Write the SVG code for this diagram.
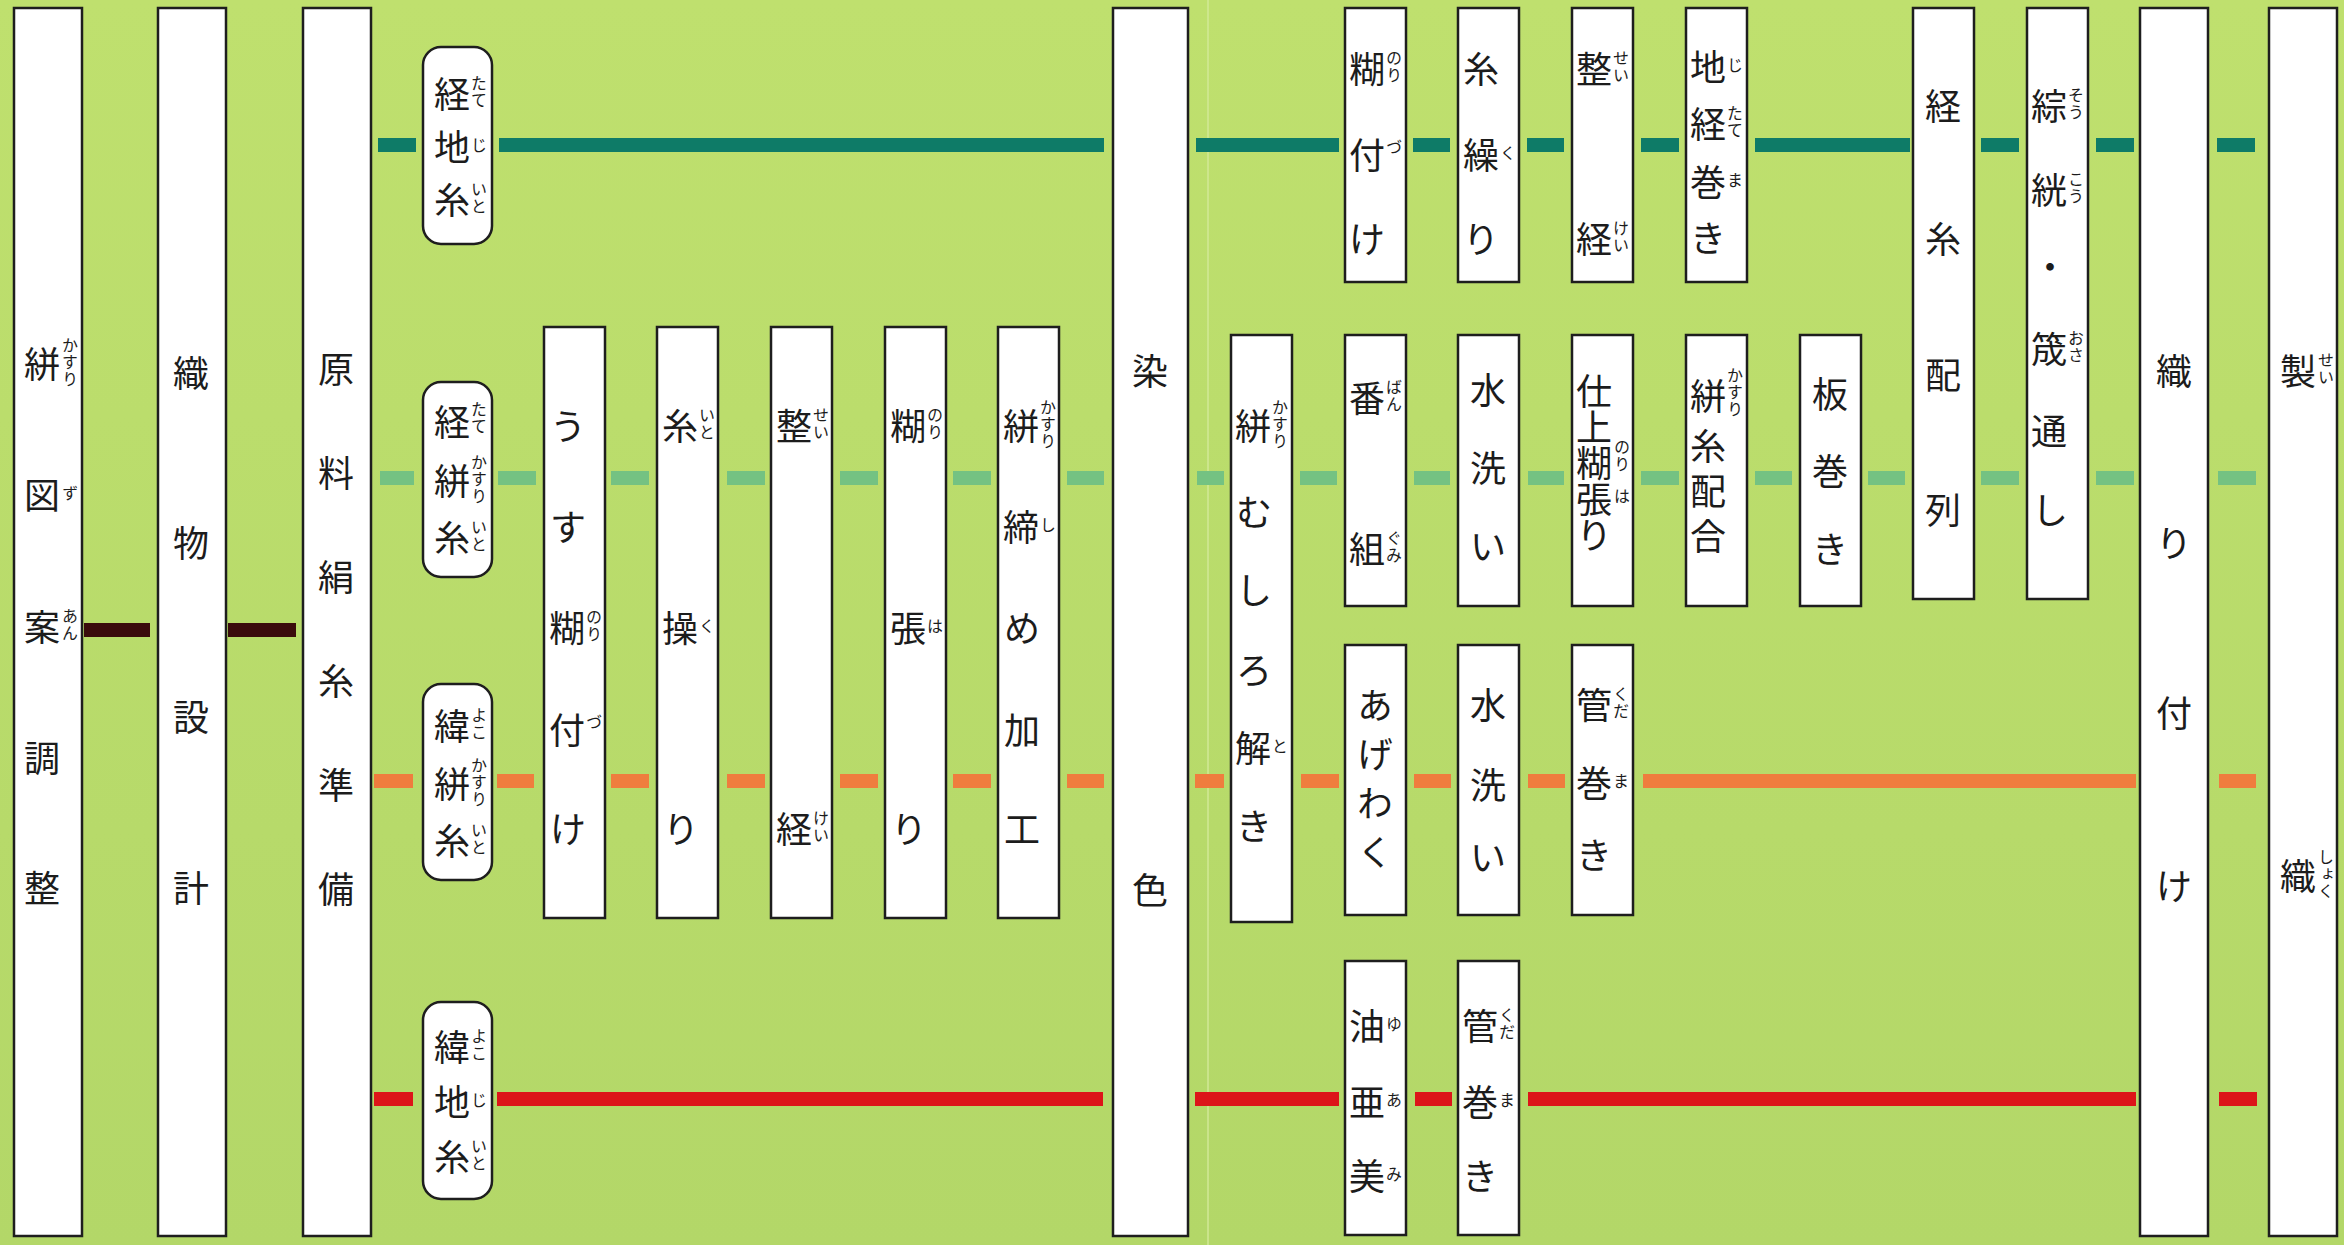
<svg xmlns="http://www.w3.org/2000/svg" width="2344" height="1245" viewBox="0 0 2344 1245">
<defs>
<linearGradient id="bgg" x1="0" y1="0" x2="0" y2="1">
<stop offset="0" stop-color="#bfe06e"/>
<stop offset="1" stop-color="#b3d768"/>
</linearGradient>
</defs>
<style>
.b{fill:#fff;stroke:#1e1e1e;stroke-width:2.5}
.t{font-family:"Noto Sans CJK JP","Noto Sans CJK SC",sans-serif;font-size:36px;fill:#1c1c1c;text-anchor:middle;dominant-baseline:central}
.tv{font-family:"Noto Sans CJK JP","Noto Sans CJK SC",sans-serif;font-size:36px;fill:#1c1c1c;text-anchor:middle;writing-mode:vertical-rl}
.r{font-family:"Noto Sans CJK JP","Noto Sans CJK SC",sans-serif;font-size:16px;fill:#1c1c1c;text-anchor:middle;writing-mode:vertical-rl;letter-spacing:1px}
.dg{fill:#0e7b67}
.lg{fill:#74c282}
.or{fill:#ef7d3e}
.rd{fill:#dc1519}
.br{fill:#3a0c0c}
</style>
<rect x="0" y="0" width="2344" height="1245" fill="url(#bgg)"/>
<line x1="1208" y1="0" x2="1208" y2="1245" stroke="#d4ea9a" stroke-width="2" opacity="0.7"/>

<g id="connectors">
<rect class="br" x="84" y="623" width="66" height="14"/>
<rect class="br" x="228" y="623" width="68" height="14"/>

<rect class="dg" x="378" y="138" width="38" height="14"/>
<rect class="dg" x="499" y="138" width="605" height="14"/>
<rect class="dg" x="1196" y="138" width="143" height="14"/>
<rect class="dg" x="1413" y="138" width="37" height="14"/>
<rect class="dg" x="1527" y="138" width="37" height="14"/>
<rect class="dg" x="1641" y="138" width="38" height="14"/>
<rect class="dg" x="1755" y="138" width="155" height="14"/>
<rect class="dg" x="1981" y="138" width="38" height="14"/>
<rect class="dg" x="2096" y="138" width="38" height="14"/>
<rect class="dg" x="2217" y="138" width="38" height="14"/>

<rect class="lg" x="380" y="471" width="34" height="14"/>
<rect class="lg" x="498" y="471" width="38" height="14"/>
<rect class="lg" x="611" y="471" width="38" height="14"/>
<rect class="lg" x="727" y="471" width="38" height="14"/>
<rect class="lg" x="840" y="471" width="38" height="14"/>
<rect class="lg" x="953" y="471" width="38" height="14"/>
<rect class="lg" x="1067" y="471" width="37" height="14"/>
<rect class="lg" x="1197" y="471" width="27" height="14"/>
<rect class="lg" x="1300" y="471" width="37" height="14"/>
<rect class="lg" x="1414" y="471" width="36" height="14"/>
<rect class="lg" x="1528" y="471" width="36" height="14"/>
<rect class="lg" x="1641" y="471" width="38" height="14"/>
<rect class="lg" x="1755" y="471" width="37" height="14"/>
<rect class="lg" x="1868" y="471" width="37" height="14"/>
<rect class="lg" x="1981" y="471" width="38" height="14"/>
<rect class="lg" x="2096" y="471" width="38" height="14"/>
<rect class="lg" x="2218" y="471" width="38" height="14"/>

<rect class="or" x="374" y="774" width="39" height="14"/>
<rect class="or" x="497" y="774" width="37" height="14"/>
<rect class="or" x="611" y="774" width="38" height="14"/>
<rect class="or" x="727" y="774" width="38" height="14"/>
<rect class="or" x="840" y="774" width="38" height="14"/>
<rect class="or" x="953" y="774" width="38" height="14"/>
<rect class="or" x="1067" y="774" width="37" height="14"/>
<rect class="or" x="1195" y="774" width="29" height="14"/>
<rect class="or" x="1301" y="774" width="38" height="14"/>
<rect class="or" x="1414" y="774" width="37" height="14"/>
<rect class="or" x="1528" y="774" width="37" height="14"/>
<rect class="or" x="1643" y="774" width="493" height="14"/>
<rect class="or" x="2219" y="774" width="37" height="14"/>

<rect class="rd" x="374" y="1092" width="39" height="14"/>
<rect class="rd" x="497" y="1092" width="606" height="14"/>
<rect class="rd" x="1195" y="1092" width="144" height="14"/>
<rect class="rd" x="1415" y="1092" width="37" height="14"/>
<rect class="rd" x="1528" y="1092" width="608" height="14"/>
<rect class="rd" x="2219" y="1092" width="38" height="14"/>
</g>

<g id="kasuri-zuan-chousei">
<rect class="b" x="14" y="8" width="68" height="1228"/>
<text class="t" x="42" y="362">絣</text><text class="r" x="70" y="362">かすり</text>
<text class="t" x="42" y="493">図</text><text class="r" x="70" y="493">ず</text>
<text class="t" x="42" y="625">案</text><text class="r" x="70" y="625">あん</text>
<text class="t" x="42" y="756">調</text>
<text class="t" x="42" y="886">整</text>
</g>

<g id="orimono-sekkei">
<rect class="b" x="158" y="8" width="68" height="1228"/>
<text class="t" x="191" y="371">織</text>
<text class="t" x="191" y="541">物</text>
<text class="t" x="191" y="715">設</text>
<text class="t" x="191" y="886">計</text>
</g>

<g id="genryou-kenshi-junbi">
<rect class="b" x="303" y="8" width="68" height="1228"/>
<text class="t" x="336" y="367">原</text>
<text class="t" x="336" y="471">料</text>
<text class="t" x="336" y="575">絹</text>
<text class="t" x="336" y="679">糸</text>
<text class="t" x="336" y="783">準</text>
<text class="t" x="336" y="887">備</text>
</g>

<g id="tate-jiito">
<rect class="b" x="423" y="47" width="69" height="197" rx="18"/>
<text class="t" x="452" y="92">経</text><text class="r" x="479" y="92">たて</text>
<text class="t" x="452" y="145">地</text><text class="r" x="479" y="145">じ</text>
<text class="t" x="452" y="198">糸</text><text class="r" x="479" y="198">いと</text>
</g>

<g id="tate-kasuriito">
<rect class="b" x="423" y="382" width="69" height="195" rx="18"/>
<text class="t" x="452" y="420">経</text><text class="r" x="479" y="418">たて</text>
<text class="t" x="452" y="479">絣</text><text class="r" x="479" y="479">かすり</text>
<text class="t" x="452" y="536">糸</text><text class="r" x="479" y="536">いと</text>
</g>

<g id="yoko-kasuriito">
<rect class="b" x="423" y="684" width="69" height="196" rx="18"/>
<text class="t" x="452" y="724">緯</text><text class="r" x="479" y="724">よこ</text>
<text class="t" x="452" y="782">絣</text><text class="r" x="479" y="782">かすり</text>
<text class="t" x="452" y="839">糸</text><text class="r" x="479" y="839">いと</text>
</g>

<g id="yoko-jiito">
<rect class="b" x="423" y="1002" width="69" height="197" rx="18"/>
<text class="t" x="452" y="1045">緯</text><text class="r" x="479" y="1045">よこ</text>
<text class="t" x="452" y="1100">地</text><text class="r" x="479" y="1100">じ</text>
<text class="t" x="452" y="1155">糸</text><text class="r" x="479" y="1155">いと</text>
</g>

<g id="usu-noritsuke">
<rect class="b" x="544" y="327" width="61" height="591"/>
<text class="t" x="568" y="424">う</text>
<text class="t" x="568" y="525">す</text>
<text class="t" x="567" y="626">糊</text><text class="r" x="594" y="626">のり</text>
<text class="t" x="567" y="728">付</text><text class="r" x="594" y="722">づ</text>
<text class="t" x="568" y="827">け</text>
</g>

<g id="itokuri-1">
<rect class="b" x="657" y="327" width="61" height="591"/>
<text class="t" x="680" y="424">糸</text><text class="r" x="707" y="424">いと</text>
<text class="t" x="680" y="626">操</text><text class="r" x="707" y="626">く</text>
<text class="t" x="681" y="827">り</text>
</g>

<g id="seikei-1">
<rect class="b" x="771" y="327" width="61" height="591"/>
<text class="t" x="794" y="424">整</text><text class="r" x="821" y="424">せい</text>
<text class="t" x="794" y="827">経</text><text class="r" x="821" y="827">けい</text>
</g>

<g id="norihari-1">
<rect class="b" x="885" y="327" width="61" height="591"/>
<text class="t" x="908" y="424">糊</text><text class="r" x="935" y="424">のり</text>
<text class="t" x="908" y="626">張</text><text class="r" x="935" y="626">は</text>
<text class="t" x="909" y="827">り</text>
</g>

<g id="kasuri-shime-kakou">
<rect class="b" x="998" y="327" width="61" height="591"/>
<text class="t" x="1021" y="424">絣</text><text class="r" x="1048" y="424">かすり</text>
<text class="t" x="1021" y="525">締</text><text class="r" x="1048" y="525">し</text>
<text class="t" x="1022" y="626">め</text>
<text class="t" x="1022" y="728">加</text>
<text class="t" x="1022" y="827">工</text>
</g>

<g id="senshoku">
<rect class="b" x="1113" y="8" width="75" height="1228"/>
<text class="t" x="1150" y="369">染</text>
<text class="t" x="1150" y="888">色</text>
</g>

<g id="kasuri-mushiro-toki">
<rect class="b" x="1231" y="335" width="61" height="587"/>
<text class="t" x="1253" y="424">絣</text><text class="r" x="1280" y="424">かすり</text>
<text class="t" x="1254" y="510">む</text>
<text class="t" x="1254" y="588">し</text>
<text class="t" x="1254" y="668">ろ</text>
<text class="t" x="1253" y="746">解</text><text class="r" x="1280" y="746">と</text>
<text class="t" x="1254" y="824">き</text>
</g>

<g id="noritsuke-2">
<rect class="b" x="1345" y="8" width="61" height="274"/>
<text class="t" x="1367" y="67">糊</text><text class="r" x="1394" y="67">のり</text>
<text class="t" x="1367" y="153">付</text><text class="r" x="1394" y="147">づ</text>
<text class="t" x="1367" y="237">け</text>
</g>

<g id="itokuri-2">
<rect class="b" x="1458" y="8" width="61" height="274"/>
<text class="t" x="1481" y="67">糸</text>
<text class="t" x="1481" y="153">繰</text><text class="r" x="1508" y="153">く</text>
<text class="t" x="1481" y="237">り</text>
</g>

<g id="seikei-2">
<rect class="b" x="1572" y="8" width="61" height="274"/>
<text class="t" x="1594" y="67">整</text><text class="r" x="1621" y="67">せい</text>
<text class="t" x="1594" y="237">経</text><text class="r" x="1621" y="237">けい</text>
</g>

<g id="jitate-maki">
<rect class="b" x="1686" y="8" width="61" height="274"/>
<text class="t" x="1708" y="65">地</text><text class="r" x="1735" y="65">じ</text>
<text class="t" x="1708" y="122">経</text><text class="r" x="1735" y="122">たて</text>
<text class="t" x="1708" y="180">巻</text><text class="r" x="1735" y="180">ま</text>
<text class="t" x="1708" y="236">き</text>
</g>

<g id="bangumi">
<rect class="b" x="1345" y="335" width="61" height="271"/>
<text class="t" x="1367" y="396">番</text><text class="r" x="1394" y="396">ばん</text>
<text class="t" x="1367" y="547">組</text><text class="r" x="1394" y="547">ぐみ</text>
</g>

<g id="mizuarai-1">
<rect class="b" x="1458" y="335" width="61" height="271"/>
<text class="t" x="1488" y="388">水</text>
<text class="t" x="1488" y="466">洗</text>
<text class="t" x="1488" y="544">い</text>
</g>

<g id="shiage-norihari">
<rect class="b" x="1572" y="335" width="61" height="271"/>
<text class="tv" x="1594" y="463">仕上糊張り</text>
<text class="r" x="1622" y="456">のり</text>
<text class="r" x="1622" y="496">は</text>
</g>

<g id="kasuriito-haigou">
<rect class="b" x="1686" y="335" width="61" height="271"/>
<text class="t" x="1708" y="394">絣</text><text class="r" x="1735" y="392">かすり</text>
<text class="tv" x="1708" y="496" style="letter-spacing:9px">糸配合</text>
</g>

<g id="itamaki">
<rect class="b" x="1800" y="335" width="61" height="271"/>
<text class="t" x="1830" y="392">板</text>
<text class="t" x="1830" y="469">巻</text>
<text class="t" x="1830" y="547">き</text>
</g>

<g id="tateito-hairetsu">
<rect class="b" x="1913" y="8" width="61" height="591"/>
<text class="t" x="1943" y="104">経</text>
<text class="t" x="1943" y="237">糸</text>
<text class="t" x="1943" y="373">配</text>
<text class="t" x="1943" y="508">列</text>
</g>

<g id="soukou-osatooshi">
<rect class="b" x="2027" y="8" width="61" height="591"/>
<text class="t" x="2049" y="104">綜</text><text class="r" x="2076" y="104">そう</text>
<text class="t" x="2049" y="188">絖</text><text class="r" x="2076" y="188">こう</text>
<text class="t" x="2050" y="265">・</text>
<text class="t" x="2049" y="347">筬</text><text class="r" x="2076" y="347">おさ</text>
<text class="t" x="2049" y="429">通</text>
<text class="t" x="2050" y="508">し</text>
</g>

<g id="agewaku">
<rect class="b" x="1345" y="645" width="61" height="270"/>
<text class="tv" x="1375" y="785" style="letter-spacing:13px">あげわく</text>
</g>

<g id="mizuarai-2">
<rect class="b" x="1458" y="645" width="61" height="270"/>
<text class="t" x="1488" y="703">水</text>
<text class="t" x="1488" y="783">洗</text>
<text class="t" x="1488" y="855">い</text>
</g>

<g id="kudamaki-1">
<rect class="b" x="1572" y="645" width="61" height="270"/>
<text class="t" x="1594" y="703">管</text><text class="r" x="1621" y="703">くだ</text>
<text class="t" x="1594" y="781">巻</text><text class="r" x="1621" y="781">ま</text>
<text class="t" x="1594" y="853">き</text>
</g>

<g id="yuami">
<rect class="b" x="1345" y="961" width="61" height="274"/>
<text class="t" x="1367" y="1024">油</text><text class="r" x="1394" y="1024">ゆ</text>
<text class="t" x="1367" y="1100">亜</text><text class="r" x="1394" y="1100">あ</text>
<text class="t" x="1367" y="1174">美</text><text class="r" x="1394" y="1174">み</text>
</g>

<g id="kudamaki-2">
<rect class="b" x="1458" y="961" width="61" height="274"/>
<text class="t" x="1480" y="1024">管</text><text class="r" x="1507" y="1024">くだ</text>
<text class="t" x="1480" y="1100">巻</text><text class="r" x="1507" y="1100">ま</text>
<text class="t" x="1480" y="1174">き</text>
</g>

<g id="oritsuke">
<rect class="b" x="2140" y="8" width="68" height="1228"/>
<text class="t" x="2174" y="369">織</text>
<text class="t" x="2174" y="541">り</text>
<text class="t" x="2174" y="711">付</text>
<text class="t" x="2174" y="884">け</text>
</g>

<g id="seishoku">
<rect class="b" x="2269" y="8" width="68" height="1228"/>
<text class="t" x="2298" y="369">製</text><text class="r" x="2326" y="369">せい</text>
<text class="t" x="2298" y="874">織</text><text class="r" x="2326" y="874">しょく</text>
</g>
</svg>
